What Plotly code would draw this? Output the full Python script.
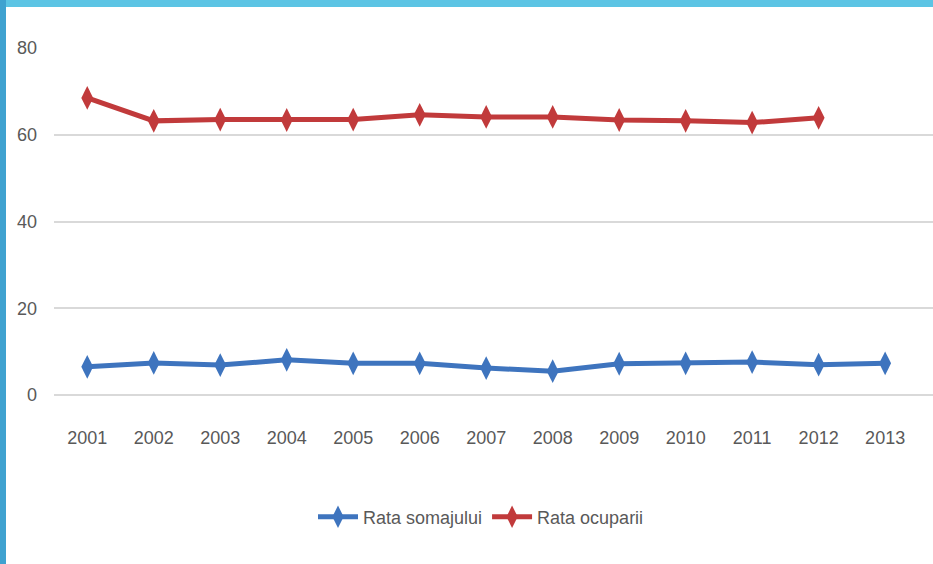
import plotly.graph_objects as go

# ---------------------------------------------------------------------------
# Data
# ---------------------------------------------------------------------------
YEARS = ["2001", "2002", "2003", "2004", "2005", "2006", "2007",
         "2008", "2009", "2010", "2011", "2012", "2013"]
RATA_SOMAJULUI = [6.5, 7.4, 6.9, 8.1, 7.3, 7.3, 6.2, 5.5, 7.2, 7.3, 7.6, 7.0, 7.3]
RATA_OCUPARII = [68.5, 63.2, 63.5, 63.4, 63.5, 64.6, 64.1, 64.1, 63.4, 63.2, 62.8, 63.9, None]
Y_TICKS = [0, 20, 40, 60, 80]

BLUE = "#3E74BE"
RED = "#C13A3B"
FONT = "Liberation Sans, Arial, sans-serif"

# plot area in pixels (used to place the frame shapes)
W, H = 933, 564
L, R, T, B = 54, 0, 48, 169
PW, PH = W - L - R, H - T - B


def px_x(x):
    return (x - L) / PW


def px_y(y):
    return (H - B - y) / PH


fig = go.Figure()
fig.add_trace(go.Scatter(
    x=YEARS, y=RATA_SOMAJULUI, name="Rata somajului",
    mode="lines+markers",
    line=dict(color=BLUE, width=5),
    marker=dict(symbol="diamond-tall", size=17, color=BLUE),
))
fig.add_trace(go.Scatter(
    x=YEARS, y=RATA_OCUPARII, name="Rata ocuparii",
    mode="lines+markers",
    line=dict(color=RED, width=5),
    marker=dict(symbol="diamond-tall", size=17, color=RED),
))

# cyan frame on top and left
fig.add_shape(type="rect", xref="paper", yref="paper", layer="above",
              x0=px_x(0), x1=px_x(W), y0=px_y(7), y1=px_y(0),
              fillcolor="#5CC4E4", line_width=0)
fig.add_shape(type="rect", xref="paper", yref="paper", layer="above",
              x0=px_x(0), x1=px_x(6), y0=px_y(H), y1=px_y(0),
              fillcolor="#3FA2D0", line_width=0)

fig.update_layout(
    width=W, height=H,
    margin=dict(l=L, r=R, t=T, b=B),
    paper_bgcolor="white", plot_bgcolor="white",
    font=dict(family=FONT, size=18, color="#595959"),
    showlegend=True,
    legend=dict(orientation="h", x=px_x(481), xanchor="center", y=px_y(517),
                yanchor="middle", font=dict(size=18, color="#595959"),
                itemwidth=40),
    # gridlines run on to the right edge, past the last category slot
    xaxis=dict(type="category", range=[-0.5, 12.72],
               showgrid=False, showline=False, ticks="",
               ticklabelstandoff=30),
    yaxis=dict(range=[0, 80], tickvals=Y_TICKS, showgrid=True,
               gridcolor="#D9D9D9", gridwidth=2, zeroline=True,
               zerolinecolor="#D9D9D9", zerolinewidth=2, showline=False,
               ticks="", ticklabelstandoff=16),
)

fig.write_html("out.html", config={"displayModeBar": False},
               post_script="document.body.style.margin='0px';")
